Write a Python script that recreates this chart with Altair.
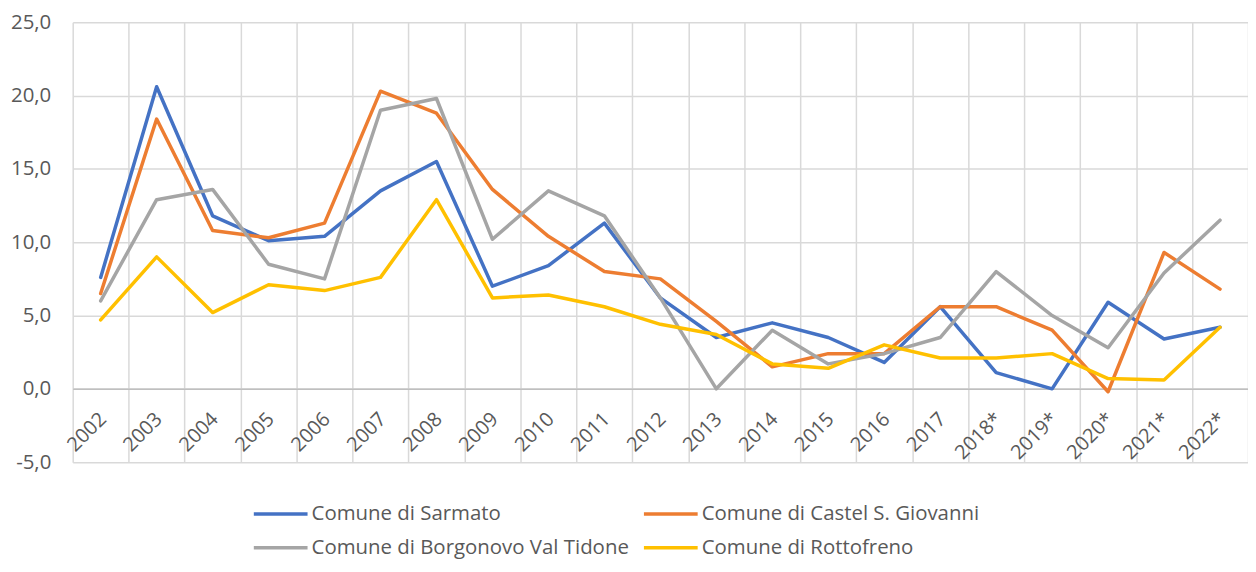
import altair as alt
import pandas as pd

years = ["2002", "2003", "2004", "2005", "2006", "2007", "2008", "2009", "2010",
         "2011", "2012", "2013", "2014", "2015", "2016", "2017", "2018*", "2019*",
         "2020*", "2021*", "2022*"]

sarmato = [7.6, 20.6, 11.8, 10.1, 10.4, 13.5, 15.5, 7.0, 8.4, 11.3, 6.2, 3.5,
           4.5, 3.5, 1.8, 5.6, 1.1, 0.0, 5.9, 3.4, 4.2]
castel = [6.5, 18.4, 10.8, 10.3, 11.3, 20.3, 18.8, 13.6, 10.4, 8.0, 7.5, 4.6,
          1.5, 2.4, 2.4, 5.6, 5.6, 4.0, -0.2, 9.3, 6.8]
borgonovo = [6.0, 12.9, 13.6, 8.5, 7.5, 19.0, 19.8, 10.2, 13.5, 11.8, 6.2, 0.0,
             4.0, 1.7, 2.4, 3.5, 8.0, 5.0, 2.8, 7.9, 11.5]
rottofreno = [4.7, 9.0, 5.2, 7.1, 6.7, 7.6, 12.9, 6.2, 6.4, 5.6, 4.4, 3.7,
              1.7, 1.4, 3.0, 2.1, 2.1, 2.4, 0.7, 0.6, 4.2]

series_names = ["Comune di Sarmato", "Comune di Castel S. Giovanni",
                "Comune di Borgonovo Val Tidone", "Comune di Rottofreno"]
colors = ["#4472C4", "#ED7D31", "#A5A5A5", "#FFC000"]
# legend is laid out column by column: order so rows read Sarmato | Castel, Borgonovo | Rottofreno
legend_order = [0, 2, 1, 3]
y_ticks = [-5, 0, 5, 10, 15, 20, 25]

rows = []
for name, vals in zip(series_names, [sarmato, castel, borgonovo, rottofreno]):
    for yr, v in zip(years, vals):
        rows.append({"anno": yr, "valore": v, "serie": name})
df = pd.DataFrame(rows)

FONT = "Open Sans"
TXT = "#595959"
W, H = 1181, 442

chart = alt.Chart(df).mark_line(strokeWidth=3.5, strokeJoin="round", strokeCap="round").encode(
    x=alt.X("anno:N", sort=years, bandPosition=0.5,
            scale=alt.Scale(type="band", paddingInner=0, paddingOuter=0, round=False),
            axis=alt.Axis(title=None, labelAngle=-45, tickBand="extent", ticks=False,
                          domainColor="#bfbfbf", domainWidth=1.5, offset=-(H * 5 / 30),
                          grid=True, gridColor="#d9d9d9", gridWidth=1.5,
                          labelPadding=20, labelOffset=-5, labelFontSize=20,
                          labelFont=FONT, labelColor=TXT)),
    y=alt.Y("valore:Q",
            scale=alt.Scale(domain=[-5, 25], nice=False, zero=False),
            axis=alt.Axis(title=None, values=y_ticks,
                          labelExpr="replace(replace(format(datum.value, '.1f'), '.', ','), '\u2212', '-')",
                          domain=False, ticks=False, gridColor="#d9d9d9", gridWidth=1.5,
                          labelPadding=22, labelFontSize=20.5, labelFont=FONT,
                          labelColor=TXT)),
    color=alt.Color("serie:N",
                    scale=alt.Scale(domain=[series_names[i] for i in legend_order],
                                    range=[colors[i] for i in legend_order]),
                    legend=alt.Legend(title=None, orient="none", legendX=180, legendY=483,
                                      columns=2, symbolType="stroke", symbolSize=2916,
                                      symbolStrokeWidth=3.5, labelFontSize=20.5,
                                      labelFont=FONT, labelColor=TXT, labelLimit=600,
                                      clipHeight=22, labelOffset=2, columnPadding=12,
                                      rowPadding=12)),
).properties(
    width=W, height=H,
    autosize=alt.AutoSizeParams(type="none"),
    padding={"left": 65, "top": 13, "right": 0, "bottom": 97},
).configure_view(stroke=None)

chart.save("out.html", embed_options={"renderer": "svg", "actions": False})
